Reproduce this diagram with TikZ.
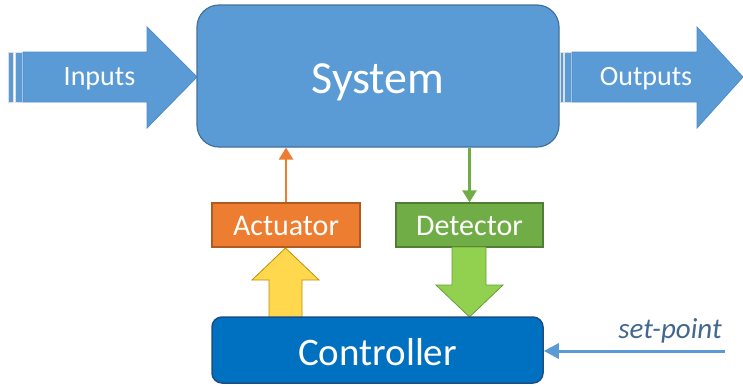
\documentclass[tikz,border=0pt]{standalone}
\usepackage{fontspec}
\setmainfont{Carlito}
\usetikzlibrary{arrows.meta}
\definecolor{sysblue}{HTML}{5B9BD5}
\definecolor{sysedge}{HTML}{41719C}
\definecolor{arredge}{HTML}{4F8CC9}
\definecolor{actorange}{HTML}{ED7D31}
\definecolor{actedge}{HTML}{AE5A21}
\definecolor{detgreen}{HTML}{70AD47}
\definecolor{detedge}{HTML}{507E32}
\definecolor{yel}{HTML}{FFD84D}
\definecolor{yeledge}{HTML}{BF9000}
\definecolor{lgreen}{HTML}{92D050}
\definecolor{lgreenedge}{HTML}{6A9E3A}
\definecolor{ctrlblue}{HTML}{0070C0}
\definecolor{ctrledge}{HTML}{1A4F86}
\definecolor{sptext}{HTML}{44678F}
\tikzset{
  blockarrow/.style={fill=sysblue, draw=arredge, line width=0.8},
  stripe/.style={fill=sysblue, draw=white!75!gray, line width=0.8},
  arrowtext/.style={text=white, inner sep=0, anchor=base, font=\fontsize{28}{32}\selectfont},
  smallbox/.style={draw, line width=1.2, minimum height=44, inner sep=0, text=white, text height=20, text depth=0, font=\fontsize{30}{34}\selectfont},
}
\begin{document}
\begin{tikzpicture}[x=1pt,y=-1pt]
\useasboundingbox (0,0) rectangle (743,386);
% Inputs arrow
\draw[stripe] (8,52) rectangle (13,102);
\draw[stripe] (15,52) rectangle (22,102);
\draw[blockarrow] (23,52) -- (147,52) -- (147,27) -- (197,77) -- (147,128) -- (147,102) -- (23,102) -- cycle;
\node[arrowtext] (inp) at (99.5,85) {Inputs};
% Outputs arrow
\draw[stripe] (560,52) rectangle (563,102);
\draw[stripe] (564,52) rectangle (571,102);
\draw[blockarrow] (572,52) -- (697,52) -- (697,27) -- (743,77) -- (697,128) -- (697,102) -- (572,102) -- cycle;
\node[arrowtext] (outp) at (646,85) {Outputs};
% System
\node[draw=sysedge, fill=sysblue, line width=1.2, rounded corners=22, minimum width=362, minimum height=142, inner sep=0, text=white, text height=34, text depth=0, font=\fontsize{46}{50}\selectfont] (sys) at (378,76) {System};
% Actuator / Detector
\node[smallbox, fill=actorange, draw=actedge, minimum width=148] (act) at (286,225) {Actuator};
\node[smallbox, fill=detgreen, draw=detedge, minimum width=147] (det) at (469.5,225) {Detector};
% thin arrows
\draw[actorange, line width=2.5, -{Triangle[width=14,length=12]}] (act.north) -- (act.north |- sys.south);
\draw[detgreen, line width=2.5, -{Triangle[width=14,length=12]}] (sys.south -| det.north) -- (det.north);
% block arrows
\draw[fill=yel, draw=yeledge, line width=0.8] (269,318) -- (269,280) -- (252,280) -- (285.5,248) -- (319,280) -- (302,280) -- (302,318) -- cycle;
\draw[fill=lgreen, draw=lgreenedge, line width=0.8] (452,247) -- (486,247) -- (486,285) -- (503,285) -- (469.5,317) -- (436,285) -- (452,285) -- cycle;
% Controller
\node[draw=ctrledge, fill=ctrlblue, line width=1.5, rounded corners=10, minimum width=331, minimum height=66, inner sep=0, text=white, text height=30, text depth=0, font=\fontsize{39}{44}\selectfont] (ctrl) at (377.5,350) {Controller};
% set-point
\node[text=sptext, inner sep=0, anchor=base east, font=\itshape\fontsize{29}{32}\selectfont] (sptxt) at (722,338) {set-point};
\coordinate (sp) at (725,351);
\draw[sysblue, line width=3, -{Triangle[width=15,length=15]}] (sp) -- (ctrl.east |- sp);
\end{tikzpicture}
\end{document}
